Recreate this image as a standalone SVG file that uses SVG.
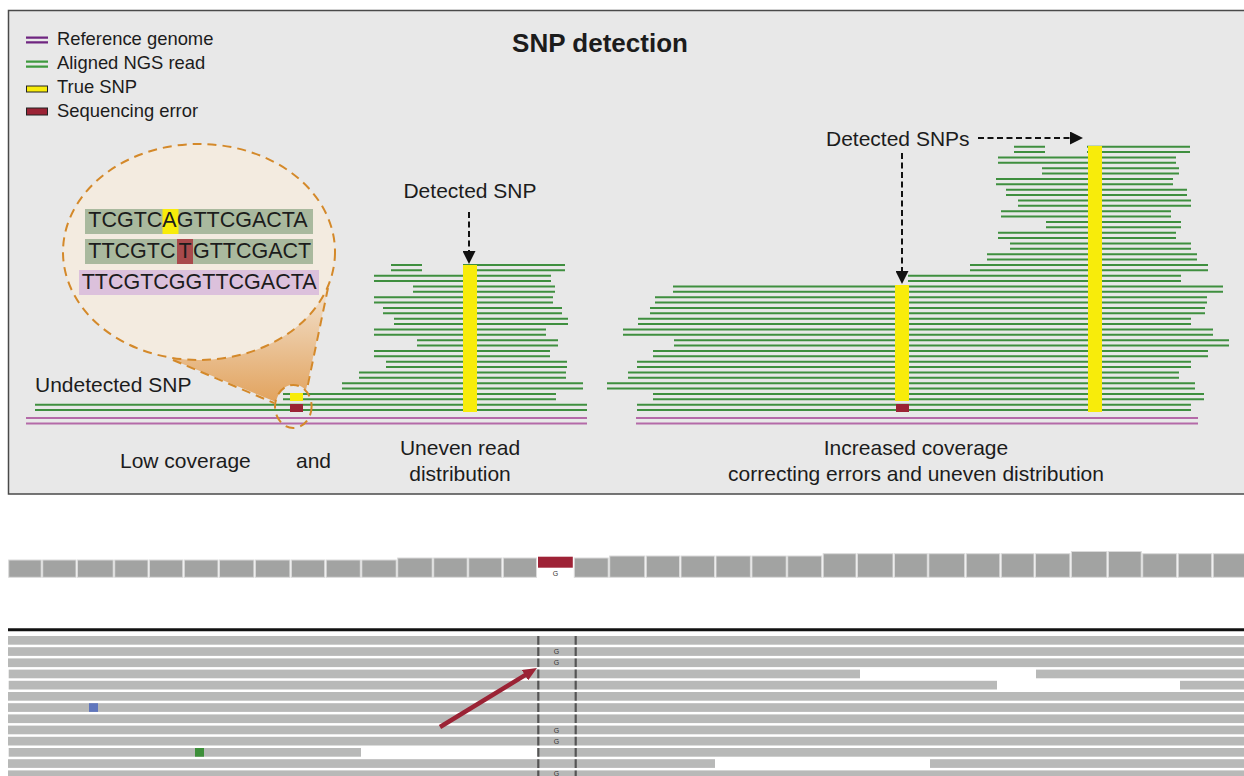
<svg xmlns="http://www.w3.org/2000/svg" width="1244" height="776" viewBox="0 0 1244 776">
<style>
text{font-family:"Liberation Sans",Arial,sans-serif;fill:#1c1c1c}
.lbl{font-size:21px}
.leg{font-size:18.4px}
.seq{font-size:21.5px}
.title{font-size:26px;font-weight:bold}
.g{font-size:7px;fill:#333;text-anchor:middle}
.read{fill:none;stroke:#3f8f3f;stroke-width:1.9}
.ref{fill:none;stroke:#b46aa8;stroke-width:1.9}
.snp{fill:#f8ec0a}
.err{fill:#9b2335}
.dash{fill:none;stroke:#111;stroke-width:2;stroke-dasharray:6 3.5}
.cov{fill:#a2a3a2;stroke:#dadada;stroke-width:1}
.gr{fill:#b8b9b8}
.vd{stroke:#555;stroke-width:2.2;stroke-dasharray:8.7 2.5}
</style>
<defs>
<marker id="ah" viewBox="0 0 13 13" markerWidth="13" markerHeight="13" refX="3" refY="6.5" orient="auto" markerUnits="userSpaceOnUse"><path d="M0,0 L13,6.5 L0,13 z" fill="#111"/></marker>
<marker id="rah" viewBox="0 0 14 12" markerWidth="14" markerHeight="12" refX="2" refY="6" orient="auto" markerUnits="userSpaceOnUse"><path d="M0,0 L14,6 L0,12 z" fill="#9b2335"/></marker>
<linearGradient id="cone" x1="0" y1="0" x2="0" y2="1">
<stop offset="0" stop-color="#f2e2cf"/><stop offset="1" stop-color="#e2a35e"/>
</linearGradient>
</defs>
<rect x="0" y="0" width="1244" height="776" fill="#fff"/>
<g id="panel">
<rect x="8.5" y="10.5" width="1250" height="483.5" fill="#e8e8e8" stroke="#4a4a4a" stroke-width="1.5"/>
</g>
<g id="title"><text class="title" x="600" y="52" text-anchor="middle">SNP detection</text></g>
<g id="legend">
<path d="M26 37.7H48M26 42.3H48" stroke="#6f2580" stroke-width="2.3" fill="none"/>
<path d="M26 61.7H48M26 66.7H48" stroke="#3f9a3f" stroke-width="2.3" fill="none"/>
<rect x="26.5" y="86" width="21" height="6" fill="#f8ec0a" stroke="#222" stroke-width="1"/>
<rect x="26.5" y="108" width="21" height="7" fill="#9b2335" stroke="#222" stroke-width="1"/>
<text class="leg" x="57" y="45">Reference genome</text>
<text class="leg" x="57" y="69">Aligned NGS read</text>
<text class="leg" x="57" y="93">True SNP</text>
<text class="leg" x="57" y="117">Sequencing error</text>
</g>
<g id="reference-lines">
<path class="ref" d="M26 418H587M26 423.5H587"/>
<path class="ref" d="M636 418H1198M636 423.5H1198"/>
</g>
<g id="left-stack">
<path class="read" d="M391 264.95H422M391 270.25H422M463 264.95H565M463 270.25H565"/>
<path class="read" d="M374 275.7H551M374 281H551"/>
<path class="read" d="M413 286.45H555M413 291.75H555"/>
<path class="read" d="M374 297.2H553M374 302.5H553"/>
<path class="read" d="M383 307.95H562M383 313.25H562"/>
<path class="read" d="M394 318.7H568M394 324H568"/>
<path class="read" d="M374 329.45H546M374 334.75H546"/>
<path class="read" d="M417 340.2H558M417 345.5H558"/>
<path class="read" d="M374 350.95H550M374 356.25H550"/>
<path class="read" d="M386 361.7H567M386 367H567"/>
<path class="read" d="M359 372.45H566M359 377.75H566"/>
<path class="read" d="M342 383.2H583M342 388.5H583"/>
<path class="read" d="M283 393.95H556M283 399.25H556"/>
<path class="read" d="M35 404.7H587M35 410H587"/>
<rect class="snp" x="463" y="265" width="14" height="147"/>
<rect class="snp" x="290" y="393" width="13" height="8"/>
<rect class="err" x="290" y="404" width="13" height="8"/>
</g>
<g id="right-stack">
<path class="read" d="M637 404.7H1191M637 410H1191"/>
<path class="read" d="M653 393.95H1204M653 399.25H1204"/>
<path class="read" d="M607 383.2H1195M607 388.5H1195"/>
<path class="read" d="M628 372.45H1179M628 377.75H1179"/>
<path class="read" d="M637 361.7H1191M637 367H1191"/>
<path class="read" d="M653 350.95H1208M653 356.25H1208"/>
<path class="read" d="M674 340.2H1229M674 345.5H1229"/>
<path class="read" d="M623 329.45H1213M623 334.75H1213"/>
<path class="read" d="M638 318.7H1191M638 324H1191"/>
<path class="read" d="M650 307.95H1205M650 313.25H1205"/>
<path class="read" d="M655 297.2H1207M655 302.5H1207"/>
<path class="read" d="M673 286.45H1223M673 291.75H1223"/>
<path class="read" d="M908 275.7H1181M908 281H1181"/>
<path class="read" d="M970 264.95H1208M970 270.25H1208"/>
<path class="read" d="M987 254.2H1197M987 259.5H1197"/>
<path class="read" d="M1010 243.45H1191M1010 248.75H1191"/>
<path class="read" d="M998 232.7H1176M998 238H1176"/>
<path class="read" d="M1046 221.95H1181M1046 227.25H1181"/>
<path class="read" d="M1001 211.2H1171M1001 216.5H1171"/>
<path class="read" d="M1018 200.45H1191M1018 205.75H1191"/>
<path class="read" d="M1006 189.7H1187M1006 195H1187"/>
<path class="read" d="M996 178.95H1173M996 184.25H1173"/>
<path class="read" d="M1042 168.2H1179M1042 173.5H1179"/>
<path class="read" d="M998 157.45H1176M998 162.75H1176"/>
<path class="read" d="M1014 146.7H1045M1014 152H1045M1087 146.7H1190M1087 152H1190"/>
<rect class="snp" x="895" y="285" width="14" height="116"/>
<rect class="err" x="896" y="404" width="13" height="8"/>
<rect class="snp" x="1088" y="146" width="14" height="266"/>
</g>
<g id="magnifier">
<path d="M173 360 L276 402 A18.3 21.5 0 0 1 306 390 L328 288 L240 330 Z" fill="url(#cone)"/>
<ellipse cx="199" cy="252" rx="136" ry="108" fill="#f3ebe0" stroke="#d4892a" stroke-width="2" stroke-dasharray="9 6"/>
<path d="M173 360 L274 403 M328 288 L307 389" fill="none" stroke="#d4892a" stroke-width="2" stroke-dasharray="9 6"/>
<ellipse cx="293.3" cy="406.5" rx="18.3" ry="21.5" fill="none" stroke="#d4892a" stroke-width="2" stroke-dasharray="9 6"/>
<rect x="85" y="209" width="228" height="25" fill="#a9b99e"/>
<rect x="85" y="239" width="228" height="25" fill="#a9b99e"/>
<rect x="79" y="270" width="240" height="25" fill="#dcc1dc"/>
<rect x="162.5" y="209" width="16" height="25" fill="#f8ec0a"/>
<rect x="177" y="239" width="16" height="25" fill="#a84a4c"/>
<text class="seq" x="88.3" y="227.3">TCGTCAGTTCGACTA</text>
<text class="seq" y="258.3"><tspan x="88.3">TTCGTC</tspan><tspan x="178.5">T</tspan><tspan x="193">GTTCGACT</tspan></text>
<text class="seq" x="81.7" y="289.3">TTCGTCGGTTCGACTA</text>
</g>
<g id="labels">
<text class="lbl" x="35" y="392">Undetected SNP</text>
<text class="lbl" x="470" y="198" text-anchor="middle">Detected SNP</text>
<text class="lbl" x="826" y="146">Detected SNPs</text>
<text class="lbl" x="120" y="468">Low coverage</text>
<text class="lbl" x="296" y="468">and</text>
<text class="lbl" x="460" y="455" text-anchor="middle">Uneven read</text>
<text class="lbl" x="460" y="481" text-anchor="middle">distribution</text>
<text class="lbl" x="916" y="455" text-anchor="middle">Increased coverage</text>
<text class="lbl" x="916" y="481" text-anchor="middle">correcting errors and uneven distribution</text>
</g>
<g id="coverage-track">
<rect class="cov" x="8.7" y="560" width="32.5" height="17.3"/>
<rect class="cov" x="42.7" y="560" width="33.3" height="17.3"/>
<rect class="cov" x="77.5" y="560" width="35.7" height="17.3"/>
<rect class="cov" x="114.7" y="560" width="33.3" height="17.3"/>
<rect class="cov" x="149.5" y="560" width="33.3" height="17.3"/>
<rect class="cov" x="184.3" y="560" width="33.7" height="17.3"/>
<rect class="cov" x="219.5" y="560" width="34.4" height="17.3"/>
<rect class="cov" x="255.4" y="560" width="34.5" height="17.3"/>
<rect class="cov" x="291.4" y="560" width="33.3" height="17.3"/>
<rect class="cov" x="326.2" y="560" width="34.1" height="17.3"/>
<rect class="cov" x="361.8" y="560" width="34.4" height="17.3"/>
<rect class="cov" x="397.7" y="558" width="34.5" height="19.3"/>
<rect class="cov" x="433.7" y="558" width="33.5" height="19.3"/>
<rect class="cov" x="468.7" y="558" width="33.1" height="19.3"/>
<rect class="cov" x="503.3" y="558" width="33.2" height="19.3"/>
<rect x="538" y="556.7" width="34.8" height="11" fill="#9e2236"/>
<text class="g" x="555.5" y="576">G</text>
<rect class="cov" x="574.3" y="558" width="33.9" height="19.3"/>
<rect class="cov" x="609.7" y="556" width="35.1" height="21.3"/>
<rect class="cov" x="646.3" y="556" width="33.2" height="21.3"/>
<rect class="cov" x="681" y="556" width="33.5" height="21.3"/>
<rect class="cov" x="716" y="556" width="34.4" height="21.3"/>
<rect class="cov" x="751.9" y="556" width="34.3" height="21.3"/>
<rect class="cov" x="787.7" y="556" width="34" height="21.3"/>
<rect class="cov" x="823.2" y="553.7" width="32.8" height="23.6"/>
<rect class="cov" x="857.5" y="553.7" width="35.5" height="23.6"/>
<rect class="cov" x="894.5" y="553.7" width="32.8" height="23.6"/>
<rect class="cov" x="928.8" y="553.7" width="35.9" height="23.6"/>
<rect class="cov" x="966.2" y="553.7" width="33.6" height="23.6"/>
<rect class="cov" x="1001.3" y="553.7" width="32.7" height="23.6"/>
<rect class="cov" x="1035.5" y="553.7" width="34.4" height="23.6"/>
<rect class="cov" x="1071.4" y="551.5" width="35.5" height="25.8"/>
<rect class="cov" x="1108.4" y="551.5" width="32.8" height="25.8"/>
<rect class="cov" x="1142.7" y="553.7" width="34" height="23.6"/>
<rect class="cov" x="1178.2" y="553.7" width="33.5" height="23.6"/>
<rect class="cov" x="1213.2" y="553.7" width="40" height="23.6"/>
</g>
<g id="reads-track">
<line x1="8" y1="629.8" x2="1244" y2="629.8" stroke="#111" stroke-width="3"/>
<rect class="gr" x="8" y="636" width="1236" height="8.7"/>
<rect class="gr" x="8" y="647.2" width="1236" height="8.7"/>
<rect class="gr" x="8" y="658.4" width="1236" height="8.7"/>
<rect class="gr" x="8.7" y="669.6" width="851.3" height="8.7"/>
<rect class="gr" x="1036" y="669.6" width="208" height="8.7"/>
<rect class="gr" x="8.7" y="680.8" width="988.3" height="8.7"/>
<rect class="gr" x="1180" y="680.8" width="64" height="8.7"/>
<rect class="gr" x="8" y="692" width="1236" height="8.7"/>
<rect class="gr" x="8" y="703.2" width="1236" height="8.7"/>
<rect class="gr" x="8" y="714.4" width="1236" height="8.7"/>
<rect class="gr" x="8" y="725.6" width="1236" height="8.7"/>
<rect class="gr" x="8" y="736.8" width="1236" height="8.7"/>
<rect class="gr" x="8.7" y="748" width="352.3" height="8.7"/>
<rect class="gr" x="538" y="748" width="706" height="8.7"/>
<rect class="gr" x="8" y="759.2" width="707" height="8.7"/>
<rect class="gr" x="930" y="759.2" width="314" height="8.7"/>
<rect class="gr" x="8" y="770.4" width="1236" height="8.7"/>
<rect x="89" y="703.2" width="9" height="8.7" fill="#6076bd"/>
<rect x="195" y="748" width="9" height="8.7" fill="#3d8f3a"/>
<line class="vd" x1="538.3" y1="636" x2="538.3" y2="776"/>
<line class="vd" x1="575.7" y1="636" x2="575.7" y2="776"/>
<text class="g" x="556.5" y="654.2">G</text>
<text class="g" x="556.5" y="665.4">G</text>
<text class="g" x="556.5" y="732.6">G</text>
<text class="g" x="556.5" y="743.8">G</text>
<text class="g" x="556.5" y="776">G</text>
</g>
<g id="connectors">
<path class="dash" d="M469 212 V254" marker-end="url(#ah)"/>
<path class="dash" d="M902 153 V274" marker-end="url(#ah)"/>
<path class="dash" d="M978 138 H1073" marker-end="url(#ah)"/>
<path d="M440 727 L526.7 674.2" stroke="#9b2335" stroke-width="4.5" fill="none" marker-end="url(#rah)"/>
</g>
</svg>
